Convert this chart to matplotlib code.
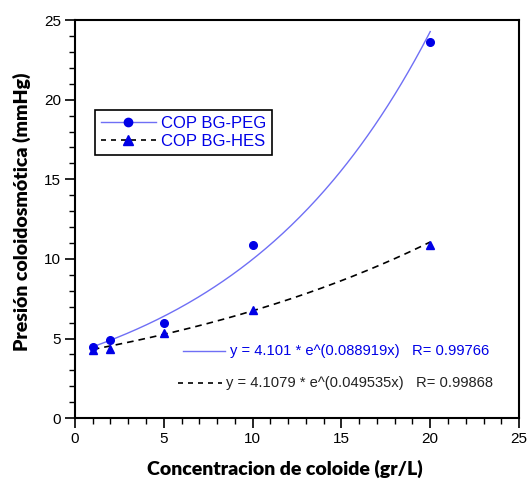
import numpy as np
import matplotlib
matplotlib.use("Agg")
import matplotlib.pyplot as plt
from matplotlib.lines import Line2D
from matplotlib.ticker import MultipleLocator

# Measured colloid osmotic pressure
conc = [1, 2, 5, 10, 20]
cop_peg = [4.5, 4.9, 6.0, 10.9, 23.6]
cop_hes = [4.25, 4.35, 5.35, 6.8, 10.85]

# Exponential fits y = a * e^(b x)
peg_fit = (4.101, 0.088919, 0.99766)
hes_fit = (4.1079, 0.049535, 0.99868)

x_ticks = [0, 5, 10, 15, 20, 25]
y_ticks = [0, 5, 10, 15, 20, 25]

plt.rcParams['font.family'] = ['Liberation Sans', 'DejaVu Sans']

fig = plt.figure(figsize=(5.28, 4.79), dpi=100)
ax = fig.add_axes([0.142, 0.127, 0.841, 0.831])

blue_marker = '#0000e6'
blue_line = '#6f6ff5'

xs = np.linspace(conc[0], conc[-1], 200)
ax.plot(xs, peg_fit[0] * np.exp(peg_fit[1] * xs), color=blue_line, lw=1.0)
ax.plot(xs, hes_fit[0] * np.exp(hes_fit[1] * xs), color='black', lw=1.2,
        ls=(0, (4, 3)))
ax.plot(conc, cop_peg, 'o', color=blue_marker, ms=5.5)
ax.plot(conc, cop_hes, '^', color=blue_marker, ms=6)

ax.set_xlim(0, 25)
ax.set_ylim(0, 25)
ax.set_xticks(x_ticks)
ax.set_yticks(y_ticks)
ax.xaxis.set_minor_locator(MultipleLocator(1))
ax.yaxis.set_minor_locator(MultipleLocator(1))
ax.tick_params(which='major', direction='out', length=7, width=1.2,
               labelsize=11, pad=3)
ax.tick_params(which='minor', direction='out', length=4, width=1.0)
for s in ax.spines.values():
    s.set_linewidth(1.5)

ax.set_xlabel('Concentracion de coloide (gr/L)', fontsize=14,
              fontweight='heavy', family=['Lato', 'DejaVu Sans'])
ax.set_ylabel('Presión coloidosmótica (mmHg)', fontsize=14,
              fontweight='heavy', family=['Lato', 'DejaVu Sans'])
ax.xaxis.set_label_coords(0.473, -0.105)
ax.yaxis.set_label_coords(-0.10, 0.518)

handles = [
    Line2D([], [], color=blue_line, lw=1.0, marker='o', ms=6,
           mfc=blue_marker, mec=blue_marker),
    Line2D([], [], color='black', lw=1.2, ls=(0, (3, 3)), marker='^', ms=6.5,
           mfc=blue_marker, mec=blue_marker),
]
leg = ax.legend(handles, ['COP BG-PEG', 'COP BG-HES'], loc='upper left',
                bbox_to_anchor=(0.045, 0.775), fontsize=12, fancybox=False,
                framealpha=1, edgecolor='black', handlelength=3.3,
                handletextpad=0.3, borderpad=0.35, labelspacing=0.2,
                borderaxespad=0)
leg.get_frame().set_linewidth(1.2)
for t in leg.get_texts():
    t.set_color(blue_marker)

# Fit equations
ax.add_line(Line2D([0.243, 0.338], [0.168, 0.168], transform=ax.transAxes,
                   color=blue_line, lw=1.0))
ax.text(0.349, 0.168,
        f'y = {peg_fit[0]} * e^({peg_fit[1]}x)   R= {peg_fit[2]}',
        transform=ax.transAxes, va='center', ha='left', fontsize=10.6,
        color=blue_marker)
ax.add_line(Line2D([0.232, 0.331], [0.088, 0.088], transform=ax.transAxes,
                   color='black', lw=1.2, ls=(0, (3, 3))))
ax.text(0.340, 0.088,
        f'y = {hes_fit[0]} * e^({hes_fit[1]}x)   R= {hes_fit[2]}',
        transform=ax.transAxes, va='center', ha='left', fontsize=10.6,
        color='#222222')

fig.savefig('out.png', dpi=100)
